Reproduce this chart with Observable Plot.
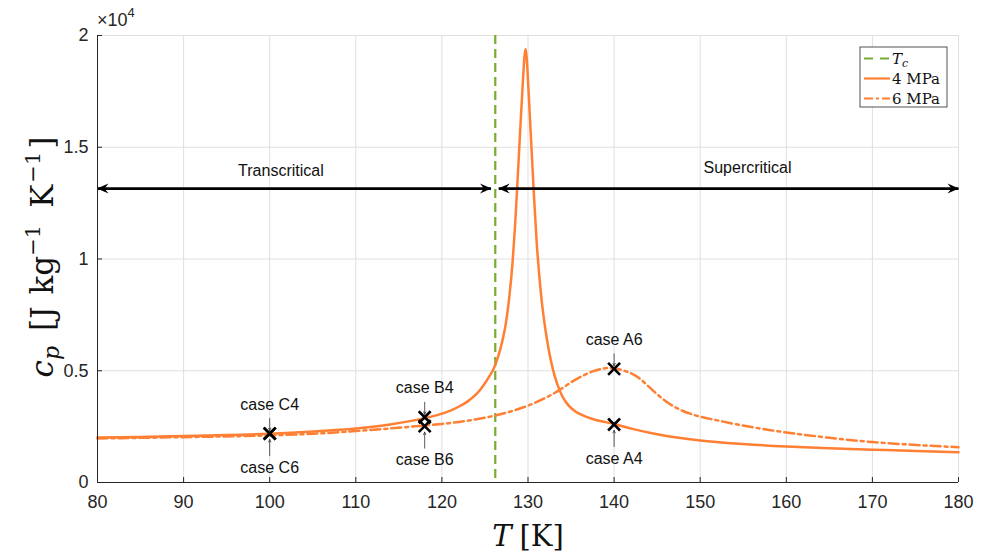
<!DOCTYPE html>
<html><head><meta charset="utf-8">
<script src="https://cdn.jsdelivr.net/npm/d3@7"></script>
<script src="https://cdn.jsdelivr.net/npm/@observablehq/plot@0.6"></script>
<style>body{margin:0;background:#fff;}</style>
</head><body><div id="chart"></div>
<script>
// ---- data ----
const T4  = [80, 85, 90, 95, 100, 105, 110, 114, 118, 119, 120, 121, 122, 123, 124, 124.5, 125, 125.5, 126, 126.5, 127, 127.4, 127.8, 128.2, 128.5, 128.8, 129.1, 129.4, 129.6, 129.72, 129.85, 130, 130.2, 130.4, 130.7, 131, 131.3, 131.6, 132, 132.4, 132.9, 133.4, 134, 134.7, 135.5, 136.5, 137.5, 138.5, 140, 142, 145, 150, 155, 160, 165, 170, 175, 180];
const cp4 = [2010, 2040, 2080, 2120, 2180, 2280, 2420, 2600, 2880, 2970, 3080, 3220, 3400, 3630, 3950, 4170, 4440, 4750, 5080, 5600, 6300, 7050, 8200, 9800, 11500, 13600, 15800, 17900, 19100, 19400, 19000, 18000, 16500, 15000, 12800, 10800, 9300, 8100, 6900, 5950, 5050, 4400, 3850, 3450, 3180, 2980, 2840, 2740, 2620, 2410, 2160, 1880, 1720, 1610, 1530, 1470, 1410, 1355];
const T6  = [80, 90, 100, 105, 110, 114, 118, 120, 122, 124, 126, 128, 130, 132, 133.5, 135, 136.5, 137.5, 138.5, 139.3, 140, 141, 142, 143, 144, 145, 146, 147, 148, 149, 150, 152, 154, 156, 158, 160, 165, 170, 175, 180];
const cp6 = [1970, 2030, 2110, 2180, 2300, 2420, 2550, 2620, 2710, 2830, 2980, 3180, 3440, 3780, 4100, 4480, 4800, 4970, 5080, 5120, 5100, 5020, 4880, 4640, 4300, 3950, 3640, 3390, 3200, 3060, 2950, 2780, 2620, 2480, 2350, 2240, 2000, 1810, 1680, 1580];
const Tc = 126.2;

const caseNames = ["case C4", "case C6", "case B4", "case B6", "case A6", "case A4"];
const caseT     = [100, 100, 118, 118, 140, 140];
const caseCp    = [2190, 2190, 2920, 2520, 5085, 2595];
const caseAbove = [true, false, true, false, true, false];

const rangeNames   = ["Transcritical", "Supercritical"];
const rangeT1      = [80, 126.6];
const rangeT2      = [125.7, 180];
const rangeCp      = [13150, 13150];
const rangeLabelT  = [101.3, 155.5];
const rangeLabelCp = [13950, 14090];

const xTicks = [80, 90, 100, 110, 120, 130, 140, 150, 160, 170, 180];
const yTicks = [0, 5000, 10000, 15000, 20000];
const yTickLabels = ["0", "0.5", "1", "1.5", "2"];
const legendLabels = ["Tc", "4 MPa", "6 MPa"];

// ---- tables ----
const d4 = T4.map((T, i) => ({T, cp: cp4[i]}));
const d6 = T6.map((T, i) => ({T, cp: cp6[i]}));
const cases = caseNames.map((name, i) => ({name, T: caseT[i], cp: caseCp[i], above: caseAbove[i]}));
const ranges = rangeNames.map((name, i) => ({name, T1: rangeT1[i], T2: rangeT2[i], cp: rangeCp[i], lT: rangeLabelT[i], lCp: rangeLabelCp[i]}));

const W = 989, H = 554, mL = 97, mR = 31, mT = 35, mB = 72;
const k = 20000 / (H - mT - mB); // data units per px
const orange = "#ff7f33", green = "#77ac30", axisCol = "#262626", gridCol = "#dfdfdf";
const sans = "'Liberation Sans', Arial, Helvetica, sans-serif";
const serif = "'DejaVu Serif', serif";

const chart = Plot.plot({
  width: W, height: H,
  marginLeft: mL, marginRight: mR, marginTop: mT, marginBottom: mB,
  style: {fontFamily: sans, background: "white", color: axisCol},
  x: {domain: [80, 180]},
  y: {domain: [0, 20000]},
  marks: [
    Plot.gridX(xTicks, {stroke: gridCol, strokeOpacity: 1}),
    Plot.gridY(yTicks, {stroke: gridCol, strokeOpacity: 1}),
    Plot.ruleX([Tc], {stroke: green, strokeWidth: 2.2, strokeDasharray: "9,5"}),
    Plot.line(d4, {x: "T", y: "cp", stroke: orange, strokeWidth: 2.5, curve: "monotone-x"}),
    Plot.line(d6, {x: "T", y: "cp", stroke: orange, strokeWidth: 2.5, curve: "monotone-x", strokeDasharray: "10,4,3,4"}),
    Plot.link(ranges, {x1: "T1", x2: "T2", y1: "cp", y2: "cp", stroke: "black", strokeWidth: 2.6}),
    Plot.text(ranges, {x: "lT", y: "lCp", text: "name", fontSize: 16, fill: "#111"}),
    Plot.arrow(cases, {
      x1: "T", x2: "T",
      y1: d => d.above ? d.cp + 15 * k : d.cp - 22 * k,
      y2: d => d.above ? d.cp + 3 * k : d.cp - 6 * k,
      stroke: "#333", strokeWidth: 0.8, headLength: 5, headAngle: 50
    }),
    Plot.dot(cases, {x: "T", y: "cp", symbol: "times", r: 5.5, stroke: "black", strokeWidth: 2.6}),
    Plot.text(cases.filter(d => d.above), {x: "T", y: "cp", text: "name", dy: -29, fontSize: 16, fill: "#111"}),
    Plot.text(cases.filter(d => !d.above), {x: "T", y: "cp", text: "name", dy: 34, fontSize: 16, fill: "#111"}),
    Plot.ruleX([80], {stroke: axisCol, strokeWidth: 1}),
    Plot.ruleY([0], {stroke: axisCol, strokeWidth: 1}),
    Plot.axisX(xTicks, {tickSize: 0, tickPadding: 13, fontSize: 18, label: null}),
    Plot.axisX(xTicks, {tickSize: 5, dy: -5, tickFormat: () => "", label: null, stroke: axisCol}),
    Plot.axisY(yTicks, {tickSize: 0, tickPadding: 9, fontSize: 18, label: null, tickFormat: d => yTickLabels[yTicks.indexOf(d)]}),
    Plot.axisY(yTicks, {tickSize: 5, dx: 5, tickFormat: () => "", label: null, stroke: axisCol})
  ]
});
document.getElementById("chart").appendChild(chart);

const svg = d3.select(chart);
// arrow heads for range arrows
const defs = svg.append("defs");
defs.append("marker")
  .attr("id", "ahead").attr("viewBox", "-12 -6 13 12")
  .attr("markerWidth", 13).attr("markerHeight", 12)
  .attr("refX", 0).attr("refY", 0)
  .attr("orient", "auto-start-reverse").attr("markerUnits", "userSpaceOnUse")
  .append("path").attr("d", "M0.5,0 L-11,-5 L-7,0 L-11,5 Z").attr("fill", "black");
svg.selectAll('g[aria-label="link"] path')
  .attr("marker-start", "url(#ahead)").attr("marker-end", "url(#ahead)");

// ×10^4 exponent label
const ex = svg.append("text").attr("x", mL).attr("y", 26).attr("text-anchor", "start")
  .attr("font-family", sans).attr("font-size", 18).attr("fill", axisCol);
ex.append("tspan").text("×10");
ex.append("tspan").attr("dy", -9).attr("font-size", 13).text("4");

// y label
const yl = svg.append("text")
  .attr("transform", `translate(53,257) rotate(-90)`)
  .attr("text-anchor", "middle").attr("font-family", serif).attr("font-size", 31).attr("fill", "#111");
yl.append("tspan").attr("font-style", "italic").text("c");
yl.append("tspan").attr("font-style", "italic").attr("font-size", 22).attr("dy", 6).text("p");
yl.append("tspan").attr("dy", -6).attr("dx", 15).text("[J");
yl.append("tspan").attr("dx", 12).text("kg");
yl.append("tspan").attr("font-size", 21).attr("dy", -13).text("\u22121");
yl.append("tspan").attr("dy", 13).attr("dx", 17).text("K");
yl.append("tspan").attr("font-size", 21).attr("dy", -13).attr("dx", 2).text("\u22121");
yl.append("tspan").attr("dy", 13).attr("dx", 3).text("]");

// x label
const xl = svg.append("text").attr("x", 528).attr("y", 546)
  .attr("text-anchor", "middle").attr("font-family", serif).attr("font-size", 29).attr("fill", "#111");
xl.append("tspan").attr("font-style", "italic").text("T");
xl.append("tspan").attr("dx", 8).text("[K]");

// legend
const lg = svg.append("g").attr("transform", "translate(860,47)");
lg.append("rect").attr("width", 87).attr("height", 60).attr("fill", "white").attr("stroke", axisCol).attr("stroke-width", 0.8);
const styles = [
  {stroke: green, dash: "9,7"},
  {stroke: orange, dash: null},
  {stroke: orange, dash: "9,3,3,3"}
];
legendLabels.forEach((lab, i) => {
  const y = 11.5 + i * 20;
  const ln = lg.append("line").attr("x1", 4).attr("x2", 30).attr("y1", y).attr("y2", y)
    .attr("stroke", styles[i].stroke).attr("stroke-width", 2.2);
  if (styles[i].dash) ln.attr("stroke-dasharray", styles[i].dash);
  const t = lg.append("text").attr("x", 32).attr("y", y + 5.5).attr("text-anchor", "start")
    .attr("font-family", serif).attr("font-size", 15).attr("fill", "#111");
  if (lab === "Tc") {
    t.append("tspan").attr("font-style", "italic").text("T");
    t.append("tspan").attr("font-style", "italic").attr("font-size", 11).attr("dy", 3).text("c");
  } else {
    t.text(lab);
  }
});
</script>
</body></html>
